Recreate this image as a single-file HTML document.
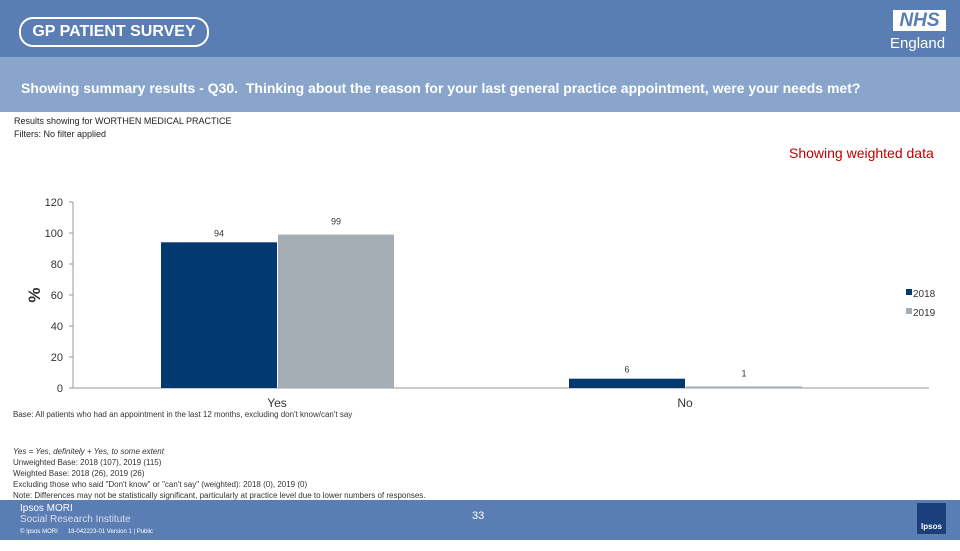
<!DOCTYPE html>
<html><head><meta charset="utf-8"><style>
body{margin:0;width:960px;height:540px;overflow:hidden;background:#fff;font-family:"Liberation Sans",sans-serif;position:relative}
.a{position:absolute;white-space:nowrap}
</style></head><body>
<div class="a" style="left:0;top:0;width:960px;height:57px;background:#5a7db3"></div>
<div class="a" style="left:19px;top:17px;width:186px;height:26px;border:2px solid #fff;border-radius:14px;color:#fff;font-weight:bold;font-size:16px;line-height:26px;text-align:center">GP PATIENT SURVEY</div>
<div class="a" style="left:893px;top:10px;width:53px;height:21px;background:#fff;color:#5a7db3;font-weight:bold;font-style:italic;font-size:19px;line-height:21px;text-align:center">NHS</div>
<div class="a" style="left:890px;top:35px;color:#fff;font-size:15px">England</div>
<div class="a" style="left:0;top:57px;width:960px;height:55px;background:#8aa5cb"></div>
<div class="a" style="left:21px;top:80px;color:#fff;font-weight:bold;font-size:14px">Showing summary results - Q30.&nbsp; Thinking about the reason for your last general practice appointment, were your needs met?</div>
<div class="a" style="left:14px;top:116px;font-size:9px;color:#222">Results showing for WORTHEN MEDICAL PRACTICE</div>
<div class="a" style="left:14px;top:129px;font-size:9px;color:#222">Filters: No filter applied</div>
<div class="a" style="left:789px;top:145px;font-size:14px;color:#c00000">Showing weighted data</div>
<svg class="a" style="left:0;top:0" width="960" height="540" id="chart"></svg>
<div class="a" style="left:13px;top:410px;font-size:8px;color:#333">Base: All patients who had an appointment in the last 12 months, excluding don't know/can't say</div>
<div class="a" style="left:13px;top:446px;font-size:8px;color:#333;line-height:11px">
<i>Yes = Yes, definitely + Yes, to some extent</i><br>Unweighted Base: 2018 (107), 2019 (115)<br>Weighted Base: 2018 (26), 2019 (26)<br>Excluding those who said "Don't know" or "can't say" (weighted): 2018 (0), 2019 (0)<br>Note: Differences may not be statistically significant, particularly at practice level due to lower numbers of responses.</div>
<div class="a" style="left:0;top:500px;width:960px;height:40px;background:#5a7db3"></div>
<div class="a" style="left:20px;top:503px;color:#fff;font-size:10px;line-height:11px">Ipsos MORI<br><span style="color:#dde">Social Research Institute</span><br><span style="font-size:6px">© Ipsos MORI &nbsp;&nbsp;&nbsp;&nbsp; 18-042223-01 Version 1 | Public</span></div>
<div class="a" style="left:472px;top:510px;color:#fff;font-size:11px">33</div>
<div class="a" style="left:917px;top:503px;width:29px;height:31px;background:#1b3f7a;color:#fff;font-size:8px;font-weight:bold;line-height:48px;text-align:center">Ipsos</div>
<script>
const categories=["Yes","No"];
const series2018=[94,6];
const series2019=[99,1];
const seriesNames=["2018","2019"];
const yTicks=[0,20,40,60,80,100,120];
const svg=document.getElementById('chart');const NS='http://www.w3.org/2000/svg';
function el(t,a,txt){const e=document.createElementNS(NS,t);for(const k in a)e.setAttribute(k,a[k]);if(txt!==undefined)e.textContent=txt;svg.appendChild(e);return e;}
const x0=73,x1=889,yZero=388,yTop=202,yMax=120;
const y=v=>yZero-(v/yMax)*(yZero-yTop);
const band=(x1-x0)/categories.length;
const cx=i=>x0+band*(i+0.5);
let e=el('line',{x1:x0,y1:yTop,x2:x0,y2:yZero,stroke:'#999'});


e=el('line',{x1:x0,y1:yZero,x2:x1+40,y2:yZero,stroke:'#999'});


yTicks.forEach(t=>{
 const tl=el('line',{x1:x0-4,y1:y(t),x2:x0,y2:y(t),stroke:'#999'});
 
 
 const tx=el('text',{x:x0-10,y:y(t)+4,'text-anchor':'end','font-size':11,fill:'#333'},t);
 
 
});
e=el('text',{x:40,y:295,'text-anchor':'middle','font-size':17,'font-weight':'bold',fill:'#333',transform:'rotate(-90 40 295)'},'%');


const bw=116;const colors=['#003a70','#a5adb5'];
[series2018,series2019].forEach((s,si)=>{
 s.forEach((v,i)=>{
  const bx=cx(i)-bw+si*bw+si;
  const r=el('rect',{x:bx,y:y(v),width:bw,height:yZero-y(v),fill:colors[si]});
  
  
  const lb=el('text',{x:bx+bw/2,y:y(v)-(si?10:6),'text-anchor':'middle','font-size':9,fill:'#333'},v);
  
  
 });
});
categories.forEach((c,i)=>{
 const t=el('text',{x:cx(i),y:407,'text-anchor':'middle','font-size':12,fill:'#333'},c);
 
 
});
seriesNames.forEach((n,si)=>{
 const r=el('rect',{x:906,y:289+si*19,width:6,height:6,fill:colors[si]});
 
 
 const t=el('text',{x:913,y:297+si*19,'font-size':10,fill:'#333'},n);
 
 
});
</script>
</body></html>
